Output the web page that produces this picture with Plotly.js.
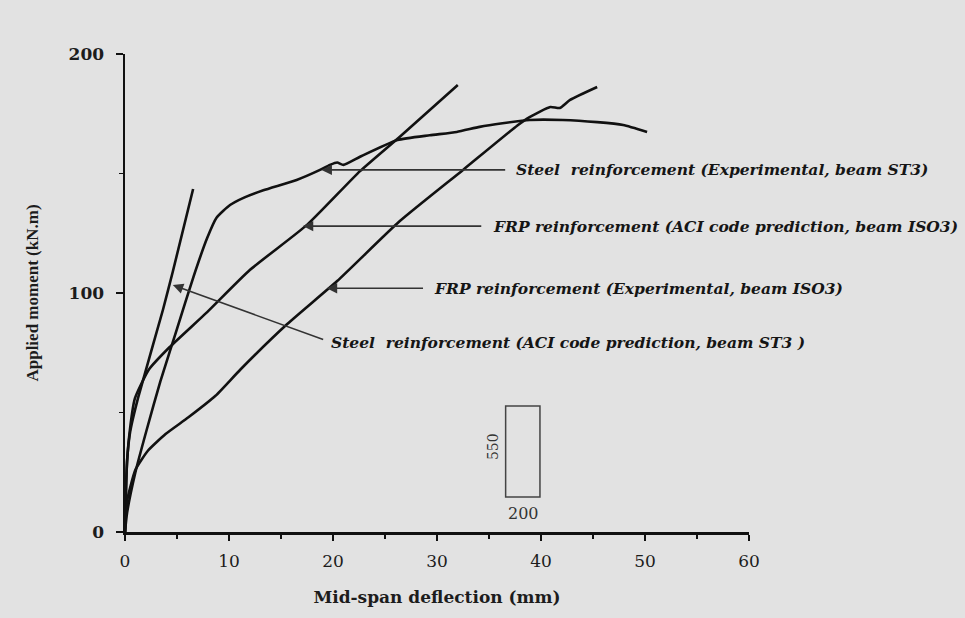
<!DOCTYPE html>
<html>
<head>
<meta charset="utf-8">
<script src="https://cdn.plot.ly/plotly-3.0.1.min.js"></script>
<style>html,body{margin:0;padding:0;background:#e2e2e2;}#chart{width:965px;height:618px;}</style>
</head>
<body>
<div id="chart"></div>
<script>
// Steel reinforcement, ACI code prediction (beam ST3)
const steelAciX = [0, 0.1, 0.2, 0.5, 1.25, 3.65, 4.6, 6.55];
const steelAciY = [0, 18, 30, 42, 56, 93, 109, 143.5];

// Steel reinforcement, experimental (beam ST3)
const steelExpX = [0, 0.2, 1.0, 2.1, 3.4, 5.0, 6.6, 7.9, 8.8, 10.1, 11.5, 13.3, 16.5, 18.75, 19.7, 20.4, 21.0, 22.6, 26.2, 29.3, 31.9, 34.1, 36.3, 38.9, 42.1, 45.4, 47.9, 50.2];
const steelExpY = [0, 8, 25, 43, 63, 85, 107, 123, 131.5, 136.8, 140, 143, 147.3, 151.5, 153.6, 154.6, 153.6, 157, 164, 166, 167.4, 169.5, 171, 172.4, 172.4, 171.5, 170.3, 167.4];

// FRP reinforcement, ACI code prediction (beam ISO3)
const frpAciX = [0, 0.15, 0.4, 0.96, 2.3, 4.3, 7.9, 12.0, 17.5, 22.6, 26.4, 32.0];
const frpAciY = [0, 25, 40, 56, 68, 77.4, 92, 109.6, 128.5, 151, 165.3, 187];

// FRP reinforcement, experimental (beam ISO3)
const frpExpX = [0, 0.2, 1.0, 2.2, 3.9, 6.1, 8.7, 11.1, 15.6, 20.4, 26.4, 32.5, 37.7, 38.9, 40.9, 41.8, 42.8, 45.4];
const frpExpY = [0, 13, 26, 34, 41, 48, 57, 68, 87, 105, 130, 151.5, 170, 173.6, 177.8, 177.4, 180.8, 186.2];

const xTicks = [0, 10, 20, 30, 40, 50, 60];
const yTicks = [0, 100, 200];

const labels = [
  "Steel  reinforcement (Experimental, beam ST3)",
  "FRP reinforcement (ACI code prediction, beam ISO3)",
  "FRP reinforcement (Experimental, beam ISO3)",
  "Steel  reinforcement (ACI code prediction, beam ST3 )"
];

const lineStyle = {color: '#111111', width: 2.6, shape: 'spline', smoothing: 0.5};
const traces = [
  {x: steelAciX, y: steelAciY, mode: 'lines', line: lineStyle, name: labels[3]},
  {x: steelExpX, y: steelExpY, mode: 'lines', line: lineStyle, name: labels[0]},
  {x: frpAciX, y: frpAciY, mode: 'lines', line: lineStyle, name: labels[1]},
  {x: frpExpX, y: frpExpY, mode: 'lines', line: lineStyle, name: labels[2]}
];

const labelFont = {family: 'DejaVu Serif', size: 15.5, color: '#151515', weight: 'bold', style: 'italic'};
const arrowColor = '#333333';
function arrow(tipX, tipY, tailX, tailY) {
  return {x: tipX, y: tipY, ax: tailX, ay: tailY, xref: 'x', yref: 'y', axref: 'x', ayref: 'y',
    text: '', showarrow: true, arrowhead: 2, arrowsize: 1.3, arrowwidth: 1.6, arrowcolor: arrowColor, standoff: 0};
}
function label(txt, x, y) {
  return {x: x, y: y, xref: 'x', yref: 'y', text: txt, showarrow: false, xanchor: 'left', yanchor: 'middle', font: labelFont};
}

const annotations = [
  arrow(18.9, 151.5, 36.7, 151.5), label(labels[0], 37.4, 151.5),
  arrow(17.1, 128, 34.4, 128), label(labels[1], 35.2, 128),
  arrow(19.4, 102, 28.8, 102), label(labels[2], 29.5, 102),
  arrow(4.6, 103.3, 19.2, 80.3), label(labels[3], 19.6, 79.5),
  {x: 35.4, y: 35.6, xref: 'x', yref: 'y', text: '550', showarrow: false, textangle: -90,
   font: {family: 'DejaVu Serif', size: 14, color: '#333'}},
  {x: 38.3, y: 7.8, xref: 'x', yref: 'y', text: '200', showarrow: false,
   font: {family: 'DejaVu Serif', size: 16, color: '#333'}}
];

const shapes = [
  {type: 'rect', xref: 'x', yref: 'y', x0: 36.6, x1: 39.9, y0: 14.6, y1: 52.7,
   line: {color: '#444', width: 1.5}, fillcolor: 'rgba(0,0,0,0)'}
];

const layout = {
  width: 965, height: 618,
  margin: {l: 125, r: 216, t: 54, b: 86},
  paper_bgcolor: '#e2e2e2', plot_bgcolor: '#e2e2e2',
  showlegend: false,
  xaxis: {
    range: [0, 60], tickvals: xTicks, ticktext: xTicks.map(String),
    showgrid: false, zeroline: false, showline: true, linecolor: '#111', linewidth: 2.5,
    ticks: 'outside', ticklen: 6, tickwidth: 2, tickcolor: '#111', ticklabelstandoff: 6,
    minor: {dtick: 5, tick0: 0, ticks: 'outside', ticklen: 4, tickwidth: 1.5, tickcolor: '#111', showgrid: false},
    tickfont: {family: 'DejaVu Serif', size: 17, color: '#1c1c1c'},
    title: {text: 'Mid-span deflection (mm)', standoff: 21,
      font: {family: 'DejaVu Serif', size: 17, color: '#1c1c1c', weight: 'bold'}}
  },
  yaxis: {
    range: [0, 200], tickvals: yTicks, ticktext: yTicks.map(String),
    showgrid: false, zeroline: false, showline: true, linecolor: '#111', linewidth: 2.5,
    ticks: 'outside', ticklen: 7, tickwidth: 2, tickcolor: '#111', ticklabelstandoff: 8,
    minor: {dtick: 50, tick0: 0, ticks: 'outside', ticklen: 4, tickwidth: 1.5, tickcolor: '#111', showgrid: false},
    tickfont: {family: 'DejaVu Serif', size: 17, color: '#1c1c1c', weight: 'bold'},
    title: {text: 'Applied moment (kN.m)', standoff: 26,
      font: {family: 'Liberation Serif', size: 17, color: '#1c1c1c', weight: 'bold'}}
  },
  annotations: annotations,
  shapes: shapes
};

Plotly.newPlot('chart', traces, layout, {displayModeBar: false, staticPlot: true});
</script>
</body>
</html>
